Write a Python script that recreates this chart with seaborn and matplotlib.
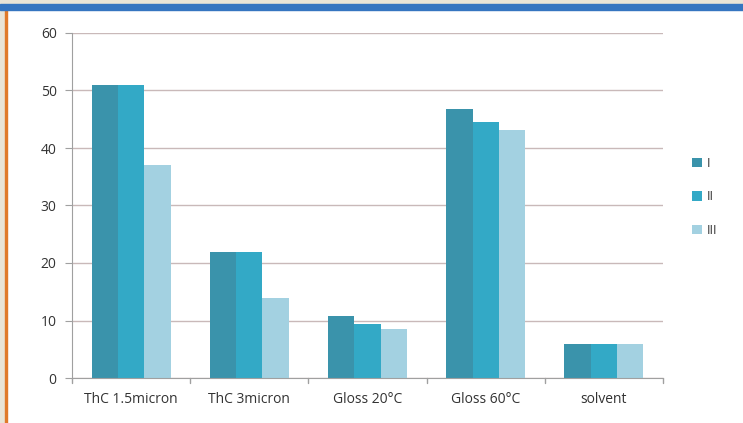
import matplotlib
matplotlib.use("Agg")
import matplotlib.pyplot as plt
import seaborn as sns
import pandas as pd
from matplotlib.patches import Rectangle

categories = ["ThC 1.5micron", "ThC 3micron", "Gloss 20°C", "Gloss 60°C", "solvent"]
series_names = ["I", "II", "III"]
vals_I = [51, 22, 10.8, 46.7, 6]
vals_II = [51, 22, 9.4, 44.6, 6]
vals_III = [37, 14, 8.5, 43.2, 6]
yticks = [0, 10, 20, 30, 40, 50, 60]

colors = ["#3a93ab", "#33a9c6", "#a3d1e1"]

rows = []
for name, vals in zip(series_names, [vals_I, vals_II, vals_III]):
    for c, v in zip(categories, vals):
        rows.append({"cat": c, "series": name, "value": v})
df = pd.DataFrame(rows)

sns.set_style("white")
plt.rcParams["font.family"] = ["Liberation Sans Narrow", "Open Sans", "DejaVu Sans"]

fig = plt.figure(figsize=(7.43, 4.23), dpi=100)
fig.patch.set_facecolor("white")
# frame decorations
fig.patches.append(Rectangle((0, 0), 5 / 743, 1, transform=fig.transFigure, color="#e9e4d6", zorder=0))
fig.patches.append(Rectangle((5 / 743, 0), 2 / 743, 1 - 10 / 423, transform=fig.transFigure, color="#e07a2a", zorder=0))
fig.patches.append(Rectangle((0, 1 - 4 / 423), 1, 4 / 423, transform=fig.transFigure, color="#e9e4d6", zorder=0))
fig.patches.append(Rectangle((0, 1 - 10 / 423), 1, 6 / 423, transform=fig.transFigure, color="#3575c0", zorder=0))

ax = fig.add_axes([72 / 743, 45 / 423, (663 - 72) / 743, (378 - 33) / 423])
sns.barplot(data=df, x="cat", y="value", hue="series", palette=colors, width=0.67,
            gap=0, ax=ax, legend=True, saturation=1, linewidth=0, edgecolor="none")

ax.set_ylim(0, 60)
ax.set_xlim(-0.5, 4.5)
ax.set_yticks(yticks)
ax.set_yticklabels([str(t) for t in yticks], fontsize=10, color="#333333")
ax.set_xticks(range(len(categories)))
ax.set_xticklabels(categories, fontsize=10, color="#333333")
ax.tick_params(axis="x", length=0, pad=10)
ax.tick_params(axis="y", length=5, color="#a0a0a0", left=True, pad=6)
ax.set_xlabel("")
ax.set_ylabel("")
ax.yaxis.grid(True, color="#c9b9b9", linewidth=1)
ax.set_axisbelow(True)
for s in ["top", "right"]:
    ax.spines[s].set_visible(False)
ax.spines["left"].set_color("#a0a0a0")
ax.spines["bottom"].set_color("#a0a0a0")
# boundary ticks on x-axis
for b in [0.5, 1.5, 2.5, 3.5, 4.5, -0.5]:
    ax.plot([b, b], [0, -0.9], color="#a0a0a0", lw=1, clip_on=False)

leg = ax.legend(loc="center left", bbox_to_anchor=(1.03, 0.525), frameon=False,
                fontsize=9, handlelength=0.8, handleheight=0.8, labelspacing=1.65,
                handletextpad=0.4)
for t in leg.get_texts():
    t.set_color("#333333")

fig.savefig("out.png", dpi=100)
